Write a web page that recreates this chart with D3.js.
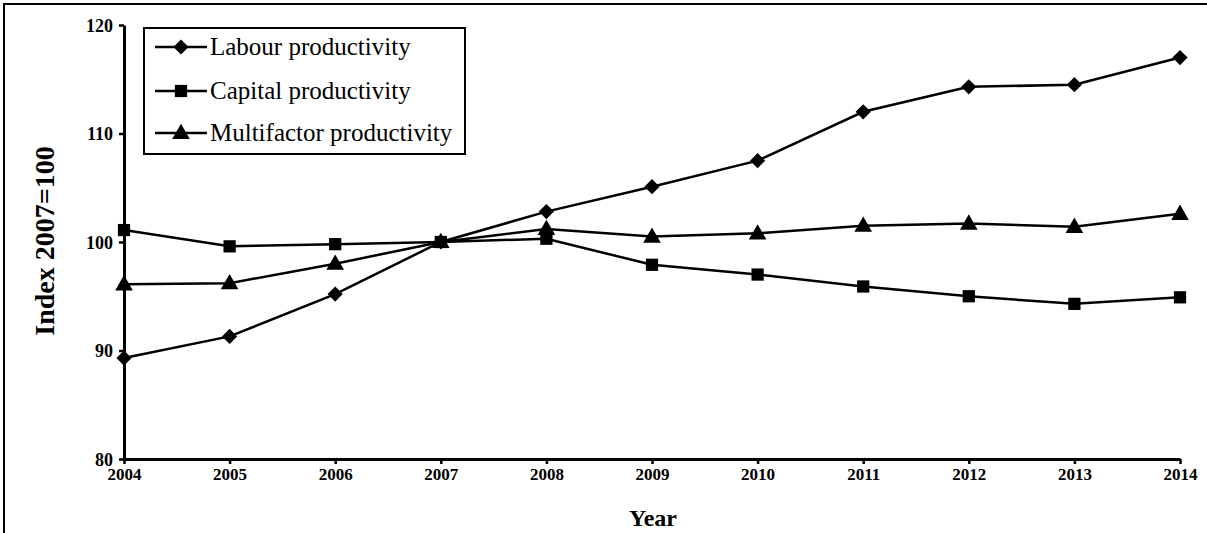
<!DOCTYPE html>
<html><head><meta charset="utf-8">
<script src="https://cdn.jsdelivr.net/npm/d3@7"></script>
<style>html,body{margin:0;padding:0;background:#fff;overflow:hidden}</style>
</head><body>
<svg id="c" width="1207" height="533"></svg>
<script>
const years = [2004,2005,2006,2007,2008,2009,2010,2011,2012,2013,2014];
const labour = [89.3,91.3,95.2,100,102.8,105.1,107.5,112.0,114.3,114.5,117.0];
const capital = [101.1,99.6,99.8,100,100.3,97.9,97.0,95.9,95.0,94.3,94.9];
const multifactor = [96.1,96.2,98.0,100,101.2,100.5,100.8,101.5,101.7,101.4,102.6];
const yTicks = [80,90,100,110,120];
const seriesNames = ["Labour productivity","Capital productivity","Multifactor productivity"];

const svg = d3.select("#c");
const serif = "'Liberation Serif','Times New Roman',serif";
// outer frame (cropped at right/bottom)
svg.append("rect").attr("x",4).attr("y",4).attr("width",1400).attr("height",700)
  .attr("fill","none").attr("stroke","#000").attr("stroke-width",2);

const x = d3.scaleLinear().domain([2004,2014]).range([124,1180]);
const y = d3.scaleLinear().domain([80,120]).range([459,25]);

const xAxis = svg.append("g").attr("transform","translate(0,459)")
  .call(d3.axisBottom(x).tickValues(years).tickFormat(d3.format("d")).tickSizeInner(5).tickSizeOuter(0).tickPadding(4));
const yAxis = svg.append("g").attr("transform","translate(124,0)")
  .call(d3.axisLeft(y).tickValues(yTicks).tickSizeInner(5).tickSizeOuter(0).tickPadding(6));
[xAxis,yAxis].forEach(g=>{
  g.select(".domain").attr("stroke","#000").attr("stroke-width",3);
  g.selectAll(".tick line").attr("stroke","#000").attr("stroke-width",2.5);
  g.selectAll("text").attr("font-family",serif).attr("font-weight","bold").attr("font-size",17).attr("fill","#000");
});
yAxis.selectAll("text").attr("dy","0.35em").attr("font-size",18);

svg.append("text").attr("x",653).attr("y",526).attr("text-anchor","middle")
  .attr("font-family",serif).attr("font-weight","bold").attr("font-size",24).text("Year");
svg.append("text").attr("transform","translate(54,241) rotate(-90)").attr("text-anchor","middle")
  .attr("font-family",serif).attr("font-weight","bold").attr("font-size",28).text("Index 2007=100");

const symbols = [d3.symbolSquare, d3.symbolSquare, d3.symbolTriangle];
const symSizes = [115, 150, 135];
const rot = [45, 0, 0];
const data = [labour, capital, multifactor];
const line = d3.line().x((d,i)=>x(years[i])).y(d=>y(d));

data.forEach((vals,k)=>{
  svg.append("path").datum(vals).attr("d",line).attr("fill","none").attr("stroke","#000").attr("stroke-width",2.5);
  svg.selectAll(null).data(vals).enter().append("path")
    .attr("d", d3.symbol().type(symbols[k]).size(symSizes[k]))
    .attr("transform",(d,i)=>`translate(${x(years[i])},${y(d)+(k===2?1:0)}) rotate(${rot[k]})`)
    .attr("fill","#000");
});

// legend
const lg = svg.append("g");
lg.append("rect").attr("x",144).attr("y",28).attr("width",321).attr("height",126)
  .attr("fill","#fff").attr("stroke","#000").attr("stroke-width",2);
const rowY = [47,91,133];
seriesNames.forEach((n,k)=>{
  lg.append("line").attr("x1",155).attr("x2",207).attr("y1",rowY[k]).attr("y2",rowY[k])
    .attr("stroke","#000").attr("stroke-width",2.5);
  lg.append("path").attr("d",d3.symbol().type(symbols[k]).size(symSizes[k]))
    .attr("transform",`translate(181,${rowY[k]+(k===2?1:0)}) rotate(${rot[k]})`).attr("fill","#000");
  lg.append("text").attr("x",210).attr("y",rowY[k]).attr("dy","0.33em")
    .attr("font-family",serif).attr("font-size",25).text(n);
});
</script>
</body></html>
